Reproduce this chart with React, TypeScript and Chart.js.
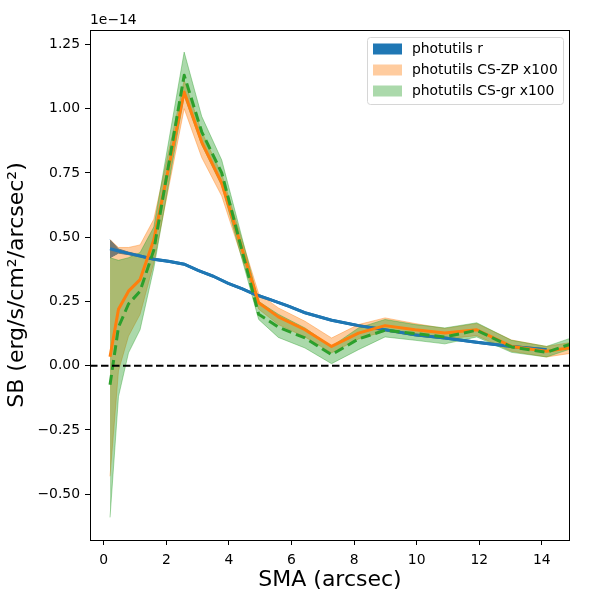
import { useEffect, useRef } from "react";
import { Chart, registerables } from "chart.js";
import type { Plugin } from "chart.js";

Chart.register(...registerables);

// radius grid for the two colour-corrected profiles (arcsec)
const sma = [0.2, 0.47, 0.79, 1.16, 1.6, 2.57, 3.13, 3.77, 4.95, 5.58, 6.43, 7.28, 8.14, 8.99, 9.95, 10.9, 11.92, 13.03, 14.15, 15.3];

// photutils CS-ZP x100 (units of 1e-14)
const zpSB = [0.035, 0.22, 0.29, 0.335, 0.49, 1.065, 0.87, 0.71, 0.245, 0.19, 0.14, 0.075, 0.127, 0.156, 0.14, 0.127, 0.14, 0.075, 0.056, 0.077];
const zpHi = [0.49, 0.46, 0.46, 0.47, 0.57, 1.11, 0.91, 0.745, 0.28, 0.225, 0.173, 0.108, 0.16, 0.186, 0.164, 0.145, 0.164, 0.1, 0.075, 0.098];
const zpLo = [-0.43, -0.02, 0.115, 0.2, 0.4, 1.0, 0.81, 0.66, 0.22, 0.16, 0.112, 0.05, 0.104, 0.134, 0.117, 0.104, 0.117, 0.056, 0.034, 0.055];

// photutils CS-gr x100
const grSB = [-0.074, 0.15, 0.24, 0.29, 0.45, 1.13, 0.91, 0.75, 0.2, 0.15, 0.108, 0.043, 0.104, 0.138, 0.125, 0.112, 0.138, 0.073, 0.052, 0.1];
const grHi = [0.42, 0.41, 0.42, 0.44, 0.54, 1.22, 0.97, 0.8, 0.25, 0.2, 0.147, 0.075, 0.147, 0.18, 0.16, 0.147, 0.167, 0.099, 0.075, 0.123];
const grLo = [-0.59, -0.12, 0.05, 0.14, 0.38, 1.05, 0.86, 0.7, 0.18, 0.11, 0.069, 0.008, 0.0625, 0.112, 0.099, 0.085, 0.112, 0.052, 0.034, 0.081];

// photutils r
const rSma = [0.2, 0.47, 0.79, 1.16, 1.6, 2.07, 2.57, 3.03, 3.5, 3.98, 4.41, 4.84, 5.3, 5.9, 6.43, 7.28, 8.14, 8.99, 9.95, 10.9, 11.92, 13.03, 14.15];
const rSB = [0.455, 0.446, 0.437, 0.427, 0.414, 0.406, 0.395, 0.37, 0.348, 0.32, 0.3, 0.277, 0.258, 0.232, 0.206, 0.177, 0.156, 0.14, 0.12, 0.108, 0.091, 0.075, 0.0625];
const rErr = [0.035, 0.008, 0.005, 0.004, 0.004, 0.004, 0.004, 0.004, 0.004, 0.004, 0.004, 0.004, 0.004, 0.004, 0.004, 0.004, 0.004, 0.004, 0.004, 0.004, 0.004, 0.004, 0.004];

const xTicks = [0, 2, 4, 6, 8, 10, 12, 14];
const yTicks = [-0.5, -0.25, 0, 0.25, 0.5, 0.75, 1.0, 1.25];
const zeroLevel = 0;

const legendItems = [
  { label: "photutils r", color: "#1f77b4" },
  { label: "photutils CS-ZP x100", color: "rgba(255,127,14,0.4)" },
  { label: "photutils CS-gr x100", color: "rgba(44,160,44,0.4)" },
];

const FONT = "DejaVu Sans";

const pts = (xs: number[], ys: number[]) => xs.map((x, i) => ({ x, y: ys[i] }));

const extras: Plugin<"line"> = {
  id: "extras",
  afterDatasetsDraw(chart) {
    const { ctx, chartArea: a, scales } = chart;
    const y0 = scales.y.getPixelForValue(zeroLevel);
    ctx.save();
    ctx.strokeStyle = "#000";
    ctx.lineWidth = 2;
    ctx.setLineDash([7.5, 3.5]);
    ctx.beginPath();
    ctx.moveTo(a.left, y0);
    ctx.lineTo(a.right, y0);
    ctx.stroke();
    ctx.restore();
  },
  afterDraw(chart) {
    const { ctx, chartArea: a } = chart;
    ctx.save();
    // frame
    ctx.strokeStyle = "#000";
    ctx.lineWidth = 1;
    ctx.strokeRect(a.left + 0.5, a.top + 0.5, a.right - a.left - 1, a.bottom - a.top);

    // offset text
    ctx.fillStyle = "#000";
    ctx.font = `13.9px "${FONT}"`;
    ctx.textAlign = "left";
    ctx.textBaseline = "bottom";
    ctx.fillText("1e\u221214", a.left, a.top - 3);

    // legend
    const bx = 367.5, by = 37.5, bw = 196, bh = 67;
    ctx.beginPath();
    ctx.roundRect(bx, by, bw, bh, 3);
    ctx.fillStyle = "rgba(255,255,255,0.8)";
    ctx.fill();
    ctx.strokeStyle = "#d6d6d6";
    ctx.stroke();
    legendItems.forEach((it, i) => {
      const cy = 49 + i * 21;
      ctx.fillStyle = it.color;
      ctx.fillRect(373, cy - 5.5, 29, 11);
      ctx.fillStyle = "#000";
      ctx.textBaseline = "middle";
      ctx.fillText(it.label, 412, cy);
    });
    ctx.restore();
  },
};

export default function App() {
  const canvasRef = useRef<HTMLCanvasElement | null>(null);

  useEffect(() => {
    document.body.style.margin = "0";
    if (!canvasRef.current) return;

    const band = (data: { x: number; y: number }[], color: string, order: number, fill: number | false) => ({
      data,
      borderColor: color,
      borderWidth: 1,
      backgroundColor: color,
      pointRadius: 0,
      fill,
      order,
      clip: 0,
    });

    const chart = new Chart(canvasRef.current, {
      type: "line",
      data: {
        datasets: [
          band(pts(rSma, rSB.map((v, i) => v + rErr[i])), "#1f77b4", 10, 1),
          band(pts(rSma, rSB.map((v, i) => v - rErr[i])), "#1f77b4", 10, false),
          band(pts(sma, zpHi), "rgba(255,127,14,0.4)", 9, 3),
          band(pts(sma, zpLo), "rgba(255,127,14,0.4)", 9, false),
          band(pts(sma, grHi), "rgba(44,160,44,0.4)", 8, 5),
          band(pts(sma, grLo), "rgba(44,160,44,0.4)", 8, false),
          {
            data: pts(rSma, rSB),
            borderColor: "#1f77b4",
            borderWidth: 3,
            pointRadius: 0,
            fill: false,
            order: 3,
            clip: 0,
            borderJoinStyle: "round",
          },
          {
            data: pts(sma, zpSB),
            borderColor: "#ff7f0e",
            borderWidth: 3,
            pointRadius: 0,
            fill: false,
            order: 2,
            clip: 0,
            borderJoinStyle: "round",
          },
          {
            data: pts(sma, grSB),
            borderColor: "#2ca02c",
            borderWidth: 3,
            borderDash: [10, 5],
            pointRadius: 0,
            fill: false,
            order: 1,
            clip: 0,
            borderJoinStyle: "round",
          },
        ],
      },
      options: {
        animation: false,
        responsive: false,
        devicePixelRatio: 1,
        layout: { padding: { left: 0, top: 30, right: 30, bottom: 0 } },
        plugins: { legend: { display: false }, tooltip: { enabled: false } },
        scales: {
          x: {
            type: "linear",
            min: -0.44,
            max: 14.9,
            afterFit: (s) => {
              s.height = 60;
            },
            afterBuildTicks: (s) => {
              s.ticks = xTicks.map((value) => ({ value }));
            },
            grid: { drawOnChartArea: false, drawTicks: true, tickLength: 5, tickColor: "#000", color: "#000" },
            border: { display: false },
            ticks: { color: "#000", padding: 7, maxRotation: 0, font: { family: FONT, size: 13.9 }, callback: (v) => String(v) },
            title: { display: true, text: "SMA (arcsec)", color: "#000", font: { family: FONT, size: 22 }, padding: { top: 0, bottom: 7 } },
          },
          y: {
            type: "linear",
            min: -0.678,
            max: 1.306,
            afterFit: (s) => {
              s.width = 90;
            },
            afterBuildTicks: (s) => {
              s.ticks = yTicks.map((value) => ({ value }));
            },
            grid: { drawOnChartArea: false, drawTicks: true, tickLength: 5, tickColor: "#000", color: "#000" },
            border: { display: false },
            ticks: {
              color: "#000",
              padding: 5,
              font: { family: FONT, size: 13.9 },
              callback: (v) => Number(v).toFixed(2).replace("-", "\u2212"),
            },
            title: {
              display: true,
              text: "SB (erg/s/cm\u00b2/arcsec\u00b2)",
              color: "#000",
              font: { family: FONT, size: 22 },
              padding: { top: 4, bottom: 0 },
            },
          },
        },
      },
      plugins: [extras],
    });

    return () => {
      chart.destroy();
    };
  }, []);

  return <canvas ref={canvasRef} width={600} height={600} style={{ display: "block" }} />;
}
